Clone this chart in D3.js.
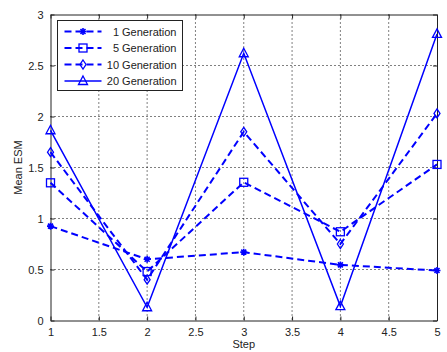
<!DOCTYPE html>
<html>
<head>
<meta charset="utf-8">
<script src="https://cdn.jsdelivr.net/npm/d3@7"></script>
<style>
  body { margin: 0; background: #fff; }
  svg { display: block; font-family: "Liberation Sans", Arial, sans-serif; }
  .tick text { font-size: 11px; fill: #222; }
</style>
</head>
<body>
<div id="chart-container"></div>
<script>
// chart data
const steps = [1, 2, 3, 4, 5];
const gen1 = [0.925, 0.60, 0.67, 0.545, 0.49];
const gen5 = [1.35, 0.48, 1.355, 0.87, 1.53];
const gen10 = [1.65, 0.40, 1.85, 0.75, 2.03];
const gen20 = [1.865, 0.13, 2.62, 0.14, 2.81];
const seriesNames = ['1 Generation', '5 Generation', '10 Generation', '20 Generation'];
const xTicks = [1, 1.5, 2, 2.5, 3, 3.5, 4, 4.5, 5];
const yTicks = [0, 0.5, 1, 1.5, 2, 2.5, 3];

const series = [
  { name: seriesNames[0], values: gen1, dash: '7,4', width: 2, marker: 'star' },
  { name: seriesNames[1], values: gen5, dash: '7,4', width: 2, marker: 'square' },
  { name: seriesNames[2], values: gen10, dash: '7,4', width: 2, marker: 'diamond' },
  { name: seriesNames[3], values: gen20, dash: null, width: 1.5, marker: 'triangle' },
];

const svg = d3.select('#chart-container').append('svg').attr('width', 447).attr('height', 352);
const margin = { top: 14.5, right: 10, bottom: 32, left: 50.5 };
const width = 437 - margin.left;
const height = 320.5 - margin.top;

const xScale = d3.scaleLinear().domain([1, 5]).range([0, width]);
const yScale = d3.scaleLinear().domain([0, 3]).range([height, 0]);

const g = svg.append('g').attr('transform', `translate(${margin.left}, ${margin.top})`);

// grid lines (dotted)
g.append('g').selectAll('line').data(xTicks.slice(1, -1)).join('line')
  .attr('x1', d => xScale(d)).attr('x2', d => xScale(d))
  .attr('y1', 0).attr('y2', height)
  .attr('stroke', '#000').attr('stroke-width', 1).attr('stroke-dasharray', '1,3');
g.append('g').selectAll('line').data(yTicks.slice(1, -1)).join('line')
  .attr('y1', d => yScale(d)).attr('y2', d => yScale(d))
  .attr('x1', 0).attr('x2', width)
  .attr('stroke', '#000').attr('stroke-width', 1).attr('stroke-dasharray', '1,3');

// axes, ticks point inward like matlab
const xAxis = d3.axisBottom(xScale).tickValues(xTicks).tickSizeInner(-4).tickSizeOuter(0).tickPadding(8).tickFormat(d3.format('~g'));
const yAxis = d3.axisLeft(yScale).tickValues(yTicks).tickSizeInner(-4).tickSizeOuter(0).tickPadding(7).tickFormat(d3.format('~g'));
const xTop = d3.axisTop(xScale).tickValues(xTicks).tickSizeInner(-4).tickSizeOuter(0).tickFormat('');
const yRight = d3.axisRight(yScale).tickValues(yTicks).tickSizeInner(-4).tickSizeOuter(0).tickFormat('');

g.append('g').attr('transform', `translate(0, ${height})`).call(xAxis);
g.append('g').call(yAxis);
g.append('g').call(xTop);
g.append('g').attr('transform', `translate(${width}, 0)`).call(yRight);
g.selectAll('.domain').attr('stroke', '#222');
g.selectAll('.tick line').attr('stroke', '#222');

// axis labels
svg.append('text').attr('x', margin.left + width / 2).attr('y', 348)
  .attr('text-anchor', 'middle').attr('font-size', 11).attr('fill', '#222').text('Step');
svg.append('text').attr('transform', `translate(22, ${margin.top + height / 2}) rotate(-90)`)
  .attr('text-anchor', 'middle').attr('font-size', 11).attr('fill', '#222').text('Mean ESM');

const blue = '#0000ff';

function drawMarker(sel, type) {
  if (type === 'star') {
    sel.append('path').attr('d', 'M-3.5,0H3.5M0,-3.5V3.5M-2.5,-2.5L2.5,2.5M-2.5,2.5L2.5,-2.5')
      .attr('stroke', blue).attr('stroke-width', 1.6).attr('fill', 'none');
  } else if (type === 'square') {
    sel.append('rect').attr('x', -4).attr('y', -4).attr('width', 8).attr('height', 8)
      .attr('stroke', blue).attr('stroke-width', 1.3).attr('fill', 'none');
  } else if (type === 'diamond') {
    sel.append('path').attr('d', 'M0,-4.5L3,0L0,4.5L-3,0Z')
      .attr('stroke', blue).attr('stroke-width', 1.3).attr('fill', 'none');
  } else {
    sel.append('path').attr('d', 'M0,-5L4.5,3.5L-4.5,3.5Z')
      .attr('stroke', blue).attr('stroke-width', 1.3).attr('fill', 'none');
  }
}

const line = d3.line().x((d, i) => xScale(steps[i])).y(d => yScale(d));

for (const s of series) {
  g.append('path').datum(s.values)
    .attr('d', line)
    .attr('fill', 'none')
    .attr('stroke', blue)
    .attr('stroke-width', s.width)
    .attr('stroke-dasharray', s.dash);
  g.append('g').selectAll('g').data(s.values).join('g')
    .attr('transform', (d, i) => `translate(${xScale(steps[i])},${yScale(d)})`)
    .each(function () { drawMarker(d3.select(this), s.marker); });
}

// legend
const legend = svg.append('g').attr('transform', 'translate(57.5, 20.5)');
legend.append('rect').attr('width', 125).attr('height', 70)
  .attr('fill', '#fff').attr('stroke', '#222').attr('stroke-width', 1);
series.forEach((s, i) => {
  const row = legend.append('g').attr('transform', `translate(0, ${11 + i * 16.5})`);
  row.append('line').attr('x1', 7).attr('x2', 44).attr('y1', 0).attr('y2', 0)
    .attr('stroke', blue).attr('stroke-width', s.width).attr('stroke-dasharray', s.dash);
  drawMarker(row.append('g').attr('transform', 'translate(25.5, 0)'), s.marker);
  row.append('text').attr('x', 119).attr('y', 4)
    .attr('text-anchor', 'end').attr('font-size', 11).attr('fill', '#222').text(s.name);
});
</script>
</body>
</html>
